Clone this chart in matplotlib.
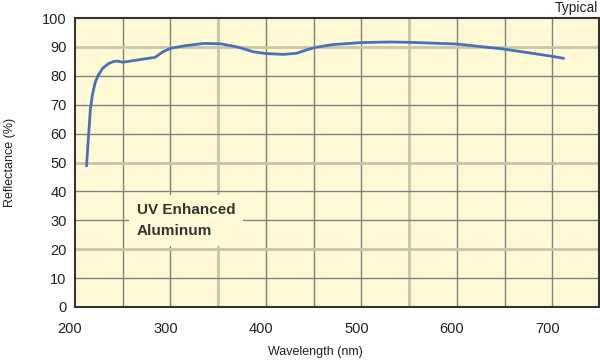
import matplotlib
matplotlib.use("Agg")
import matplotlib.pyplot as plt
import matplotlib.transforms as mtrans
from matplotlib import font_manager

names = {f.name for f in font_manager.fontManager.ttflist}
narrow = 'Liberation Sans Narrow' if 'Liberation Sans Narrow' in names else 'Liberation Sans'
plt.rcParams['font.family'] = [narrow, 'DejaVu Sans']

wavelength = [212, 213.5, 215, 216, 218, 221, 224, 229, 235, 240, 244, 247, 250, 260, 270, 284,
              292, 300, 315, 335, 352, 370, 387, 400, 418, 432, 443, 453, 470, 500, 530,
              550, 600, 648, 697, 713]
reflectance = [48.5, 56, 63, 68, 73, 77.5, 80, 82.6, 84.2, 84.9, 85.1, 84.9, 84.7, 85.2, 85.7, 86.4,
               88.3, 89.5, 90.4, 91.2, 91.1, 90.0, 88.3, 87.7, 87.4, 87.8, 89.0, 89.9, 90.8, 91.5, 91.7,
               91.6, 91.0, 89.3, 86.9, 86.0]

x_ticks = [200, 300, 400, 500, 600, 700]
y_ticks = [0, 10, 20, 30, 40, 50, 60, 70, 80, 90, 100]
tan_x = [350, 550]
tan_y = [20, 50, 90]

fig = plt.figure(figsize=(6.0, 3.62), dpi=100)
ax = fig.add_axes([75/600, 1-307/362, (599-75)/600, (307-18)/362])
ax.set_facecolor('#FFFAD5')
ax.set_xlim(200, 749)
ax.set_ylim(0, 100)

grid_gray = '#808080'
grid_tan = '#C9C5AE'
for gx in range(250, 750, 50):
    if gx in tan_x:
        ax.axvline(gx, color=grid_tan, lw=2.0, zorder=1)
    else:
        ax.axvline(gx, color=grid_gray, lw=1.0, zorder=1)
for gy in range(10, 100, 10):
    if gy in tan_y:
        ax.axhline(gy, color=grid_tan, lw=2.0, zorder=1)
    else:
        ax.axhline(gy, color=grid_gray, lw=1.0, zorder=1)

ax.plot(wavelength, reflectance, color='#4A70B7', lw=2.0, zorder=3, solid_capstyle='butt')

for s in ax.spines.values():
    s.set_color('#333333')
    s.set_linewidth(1.5)

ax.set_xticks(x_ticks)
ax.set_yticks(y_ticks)
ax.tick_params(axis='y', length=0, labelsize=10.5, colors='#222222', pad=6)
ax.tick_params(axis='x', length=0, labelsize=10.5, colors='#222222', pad=11)
ax.set_xticklabels([str(v) for v in x_ticks])
ax.set_yticklabels([str(v) for v in y_ticks])
shift = mtrans.ScaledTranslation(-5/100, 0, fig.dpi_scale_trans)
for lbl in ax.get_xticklabels():
    lbl.set_transform(lbl.get_transform() + shift)

ax.set_xlabel('Wavelength (nm)', fontsize=9, color='#222222')
ax.xaxis.set_label_coords((315-75)/524, -(352-307)/289, transform=ax.transAxes)
ax.xaxis.label.set_va('center')
ax.set_ylabel('Reflectance (%)', fontsize=9, color='#222222')
ax.yaxis.set_label_coords(-(75-10)/524, 0.5, transform=ax.transAxes)
ax.yaxis.label.set_va('center')

ax.text(0.118, 0.30, 'UV Enhanced\nAluminum', transform=ax.transAxes, fontsize=11,
        fontweight='bold', color='#333333', ha='left', va='center', linespacing=1.65, zorder=4,
        bbox=dict(boxstyle='square,pad=0.5', fc='#FFFAD5', ec='none'))

fig.text(598/600, 1-8/362, 'Typical', ha='right', va='center', fontsize=10, color='#222222')

fig.savefig('out.png', dpi=100, facecolor='white')
